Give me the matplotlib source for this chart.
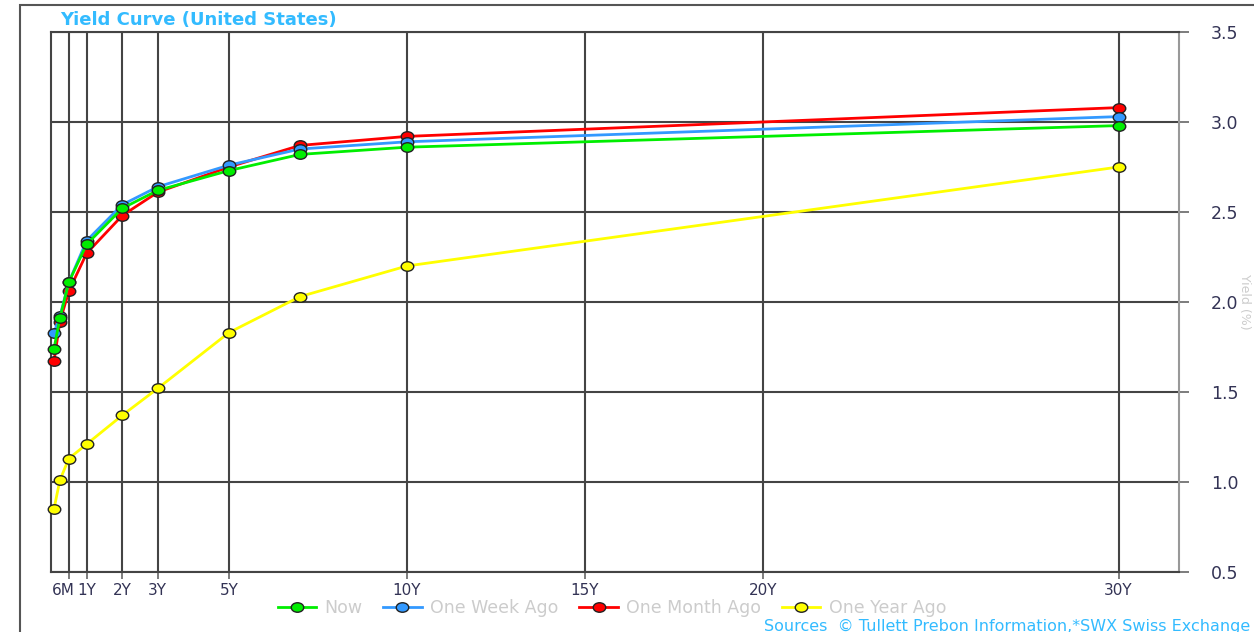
import matplotlib
matplotlib.use("Agg")
import matplotlib.pyplot as plt
from matplotlib.patches import Rectangle
from matplotlib.path import Path
from matplotlib.transforms import Affine2D, ScaledTranslation

# maturities in years
maturities = [1 / 12, 0.25, 0.5, 1, 2, 3, 5, 7, 10, 30]
now = [1.74, 1.91, 2.11, 2.32, 2.52, 2.62, 2.73, 2.82, 2.86, 2.98]
week_ago = [1.83, 1.92, 2.11, 2.34, 2.54, 2.64, 2.76, 2.85, 2.89, 3.03]
month_ago = [1.67, 1.89, 2.06, 2.27, 2.48, 2.61, 2.75, 2.87, 2.92, 3.08]
year_ago = [0.85, 1.01, 1.13, 1.21, 1.37, 1.52, 1.83, 2.03, 2.20, 2.75]

tick_pos = [0.5, 1, 2, 3, 5, 10, 15, 20, 30]
tick_labels = ["6M", "1Y", "2Y", "3Y", "5Y", "10Y", "15Y", "20Y", "30Y"]
y_ticks = [0.5, 1.0, 1.5, 2.0, 2.5, 3.0, 3.5]

W, H = 1254, 632
plt.rcParams["font.family"] = ["DejaVu Sans"]
fig = plt.figure(figsize=(W / 100, H / 100), dpi=100)

# outer frame
fig.patches.append(Rectangle((20 / W, -0.01), 1.0, 1 - 5 / H + 0.01, transform=fig.transFigure,
                             fill=False, edgecolor="#555555", linewidth=1.5))

ax = fig.add_axes([51 / W, (H - 572) / H, (1179 - 51) / W, (572 - 32) / H])

# slightly flattened circle like the original markers
ellipse = Path.unit_circle().transformed(Affine2D().scale(1.0, 0.76))

series = [
    ("One Year Ago", year_ago, "#ffff00"),
    ("One Month Ago", month_ago, "#ff0000"),
    ("One Week Ago", week_ago, "#3399ff"),
    ("Now", now, "#00ee00"),
]
handles = {}
for name, vals, col in series:
    (h,) = ax.plot(maturities, vals, color=col, lw=2, marker=ellipse, ms=9,
                   mfc=col, mec="#222222", mew=1, clip_on=False, zorder=3)
    handles[name] = h

ax.set_xlim(0, 31.7)
ax.set_ylim(0.5, 3.5)
ax.set_xticks(tick_pos)
ax.set_xticklabels(tick_labels, fontsize=11, color="#333355")
ax.set_yticks(y_ticks)
ax.set_yticklabels([f"{v:.1f}" for v in y_ticks], fontsize=12.5, color="#333355")
ax.yaxis.tick_right()
ax.tick_params(axis="y", length=7, width=1.2, color="#666666", pad=16)
ax.tick_params(axis="x", length=5, width=1.2, color="#666666", pad=3)
ax.grid(True, color="#444444", linewidth=1.5)
ax.set_axisbelow(True)
for side in ["left", "bottom", "top"]:
    ax.spines[side].set_color("#444444")
    ax.spines[side].set_linewidth(1.5)
ax.spines["right"].set_color("#999999")
ax.spines["right"].set_linewidth(1.5)

# nudge the 6M label left so it doesn't run into 1Y
lbl6m = ax.get_xticklabels()[0]
lbl6m.set_transform(lbl6m.get_transform() + ScaledTranslation(-5 / 100, 0, fig.dpi_scale_trans))

fig.text(1245 / W, 1 - 302 / H, "Yield (%)", rotation=270, ha="center", va="center",
         fontsize=9, color="#cccccc")

fig.text(60 / W, 1 - 20 / H, "Yield Curve (United States)", fontsize=13, fontweight="bold",
         color="#33bbff", ha="left", va="center")

order = ["Now", "One Week Ago", "One Month Ago", "One Year Ago"]
leg = fig.legend([handles[n] for n in order], order, loc="center", ncol=4,
                 bbox_to_anchor=(612 / W, 1 - 608 / H), frameon=False, fontsize=12.5,
                 handlelength=2.2, columnspacing=1.2, handletextpad=0.5,
                 borderpad=0.1)
for t in leg.get_texts():
    t.set_color("#cccccc")

fig.text(1250 / W, 1 - 626 / H, "Sources  \u00a9 Tullett Prebon Information,*SWX Swiss Exchange",
         fontsize=11.5, color="#33bbff", ha="right", va="center")

fig.savefig("out.png", dpi=100)
